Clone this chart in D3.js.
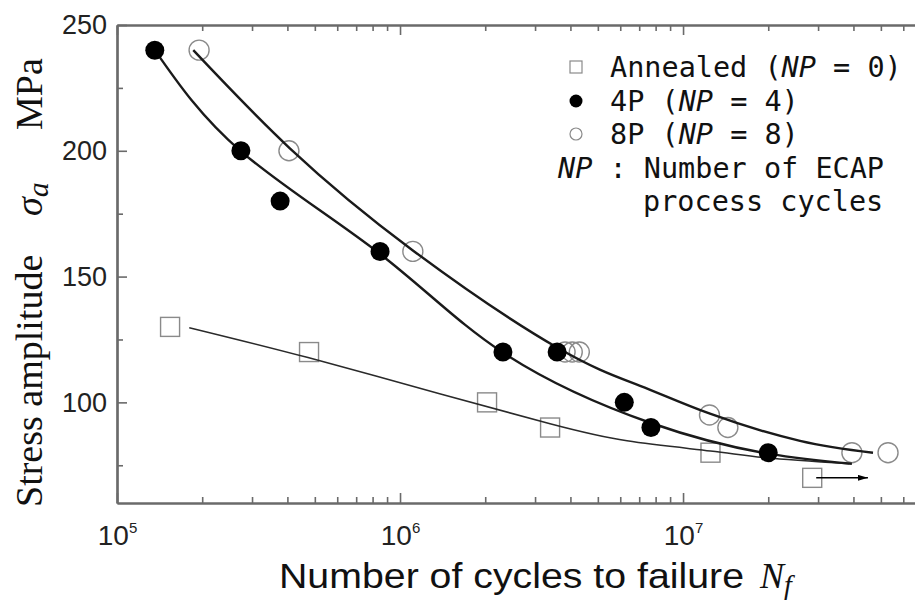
<!DOCTYPE html>
<html>
<head>
<meta charset="utf-8">
<script src="https://cdn.jsdelivr.net/npm/d3@7"></script>
<style>
  html, body { margin: 0; padding: 0; background: #fff; }
  svg { display: block; }
</style>
</head>
<body>
<svg id="chart" width="915" height="605"></svg>
<script>
// ---------------- data ----------------
const xDomain = [1e5, 6.6e7];
const yDomain = [60, 250];
const yMajorTicks = [100, 150, 200, 250];
const yMinorTicks = [75, 125, 175, 225];
const xMajorTicks = [1e5, 1e6, 1e7];
const xTickExponents = ["5", "6", "7"];

// measured points
const annealedN = [1.54e5, 4.77e5, 2.03e6, 3.39e6, 1.25e7, 2.86e7];
const annealedS = [130, 120, 100, 90, 80, 70];
const p4N = [1.36e5, 2.74e5, 3.77e5, 8.5e5, 2.31e6, 3.59e6, 6.2e6, 7.7e6, 2.0e7];
const p4S = [240, 200, 180, 160, 120, 120, 100, 90, 80];
const p8N = [1.95e5, 4.05e5, 1.11e6, 3.83e6, 4.06e6, 4.3e6, 1.24e7, 1.44e7, 3.95e7, 5.3e7];
const p8S = [240, 200, 160, 120, 120, 120, 95, 90, 80, 80];

// run-out (unbroken) specimen arrow target
const runoutFromN = 2.86e7, runoutS = 70, runoutToN = 4.5e7;

// fitted curves
const fit4N = [1.36e5, 2.74e5, 8.5e5, 2.31e6, 7.7e6, 2.0e7, 3.95e7];
const fit4S = [240, 199.8, 159.0, 119.8, 91.8, 79.6, 75.6];
const fit8N = [1.86e5, 4.08e5, 1.11e6, 3.59e6, 7.05e6, 1.245e7, 2.59e7, 4.69e7];
const fit8S = [240, 201, 160.4, 121.8, 106.6, 95.5, 84.7, 80];
const fitAN = [1.80e5, 4.73e5, 1.38e6, 3.39e6, 6.34e6, 1.25e7, 1.97e7, 3.87e7];
const fitAS = [129.7, 117.8, 103.4, 91.5, 84.7, 80.7, 78.0, 75.6];

// legend
const legendLabels = [
  ["Annealed (", "NP", " = 0)"],
  ["4P (", "NP", " = 4)"],
  ["8P (", "NP", " = 8)"]
];
const legendTypes = ["square", "filled", "open"];
const noteLine1 = ["NP", " : Number of ECAP"];
const noteLine2 = "process cycles";

const xTitle = "Number of cycles to failure";
const yTitle = ["Stress amplitude", "\u03C3", "a", "MPa"];

// ---------------- chart ----------------
const svg = d3.select("#chart");
const L = 117, R = 915, T = 25, B = 503;
const x = d3.scaleLog().domain(xDomain).range([L, R]);
const y = d3.scaleLinear().domain(yDomain).range([B, T]);
const axisColor = "#6a6a6a";
const monoFont = "'DejaVu Sans Mono', 'Liberation Mono', monospace";

const xAllTicks = x.ticks().filter(v => v >= xDomain[0] && v <= xDomain[1]);
const xMinorTicks = xAllTicks.filter(v => !xMajorTicks.includes(v));

function styleAxis(g) {
  g.select(".domain").attr("stroke", axisColor).attr("stroke-width", 2.2);
  g.selectAll(".tick line").attr("stroke", axisColor).attr("stroke-width", 1.6);
}

// bottom major
const gB = svg.append("g").attr("transform", `translate(0,${B})`)
  .call(d3.axisBottom(x).tickValues(xMajorTicks).tickSizeInner(-10).tickSizeOuter(0).tickPadding(22).tickFormat(() => ""));
styleAxis(gB);
gB.selectAll(".tick text").each(function(d, i) {
  const t = d3.select(this);
  t.attr("font-family", "'Liberation Sans', Arial, sans-serif").attr("font-size", 28).attr("fill", "#222")
   .attr("dy", "0.71em");
  t.append("tspan").text("10");
  t.append("tspan").attr("font-size", 15).attr("dy", -12).text(xTickExponents[i]);
});
const gBm = svg.append("g").attr("transform", `translate(0,${B})`)
  .call(d3.axisBottom(x).tickValues(xMinorTicks).tickSizeInner(-6).tickSizeOuter(0).tickFormat(""));
styleAxis(gBm);

// top
const gT = svg.append("g").attr("transform", `translate(0,${T})`)
  .call(d3.axisTop(x).tickValues(xMajorTicks).tickSizeInner(-10).tickSizeOuter(0).tickFormat(""));
styleAxis(gT);
const gTm = svg.append("g").attr("transform", `translate(0,${T})`)
  .call(d3.axisTop(x).tickValues(xMinorTicks).tickSizeInner(-6).tickSizeOuter(0).tickFormat(""));
styleAxis(gTm);

// left
const gL = svg.append("g").attr("transform", `translate(${L},0)`)
  .call(d3.axisLeft(y).tickValues(yMajorTicks).tickSizeInner(-10).tickSizeOuter(0).tickPadding(10).tickFormat(d3.format("d")));
styleAxis(gL);
gL.selectAll(".tick text").attr("font-family", "'Liberation Sans', Arial, sans-serif").attr("font-size", 27).attr("fill", "#222");
const gLm = svg.append("g").attr("transform", `translate(${L},0)`)
  .call(d3.axisLeft(y).tickValues(yMinorTicks).tickSizeInner(-6).tickSizeOuter(0).tickFormat(""));
styleAxis(gLm);

// markers: annealed squares
const sq = 19;
svg.append("g").selectAll("rect").data(annealedN.map((n, i) => [n, annealedS[i]])).join("rect")
  .attr("x", d => x(d[0]) - sq / 2).attr("y", d => y(d[1]) - sq / 2)
  .attr("width", sq).attr("height", sq)
  .attr("fill", "none").attr("stroke", "#8a8a8a").attr("stroke-width", 1.4);

// open circles
svg.append("g").selectAll("circle").data(p8N.map((n, i) => [n, p8S[i]])).join("circle")
  .attr("cx", d => x(d[0])).attr("cy", d => y(d[1])).attr("r", 10)
  .attr("fill", "none").attr("stroke", "#8a8a8a").attr("stroke-width", 1.4);

// curves
const line = d3.line().x(d => x(d[0])).y(d => y(d[1])).curve(d3.curveNatural);
svg.append("path").datum(fitAN.map((n, i) => [n, fitAS[i]])).attr("d", line)
  .attr("fill", "none").attr("stroke", "#2a2a2a").attr("stroke-width", 1.5);
svg.append("path").datum(fit4N.map((n, i) => [n, fit4S[i]])).attr("d", line)
  .attr("fill", "none").attr("stroke", "#1a1a1a").attr("stroke-width", 2.4);
svg.append("path").datum(fit8N.map((n, i) => [n, fit8S[i]])).attr("d", line)
  .attr("fill", "none").attr("stroke", "#1a1a1a").attr("stroke-width", 2.4);

// filled circles
svg.append("g").selectAll("circle").data(p4N.map((n, i) => [n, p4S[i]])).join("circle")
  .attr("cx", d => x(d[0])).attr("cy", d => y(d[1])).attr("r", 9.5)
  .attr("fill", "#000");

// run-out arrow
svg.append("defs").append("marker").attr("id", "ah")
  .attr("viewBox", "0 0 10 6").attr("refX", 10).attr("refY", 3)
  .attr("markerWidth", 10).attr("markerHeight", 6).attr("markerUnits", "userSpaceOnUse")
  .attr("orient", "auto")
  .append("path").attr("d", "M0,0 L10,3 L0,6 Z").attr("fill", "#000");
svg.append("line")
  .attr("x1", x(runoutFromN) + 4).attr("y1", y(runoutS))
  .attr("x2", x(runoutToN)).attr("y2", y(runoutS))
  .attr("stroke", "#000").attr("stroke-width", 1.5).attr("marker-end", "url(#ah)");

// legend
const legY = [67, 101, 134];
const legMarkerX = 576;
legendTypes.forEach((t, i) => {
  const cy = legY[i];
  if (t === "square") {
    svg.append("rect").attr("x", legMarkerX - 6).attr("y", cy - 6).attr("width", 12).attr("height", 12)
      .attr("fill", "none").attr("stroke", "#8a8a8a").attr("stroke-width", 1.2);
  } else if (t === "filled") {
    svg.append("circle").attr("cx", legMarkerX).attr("cy", cy).attr("r", 6.5).attr("fill", "#000");
  } else {
    svg.append("circle").attr("cx", legMarkerX).attr("cy", cy).attr("r", 6)
      .attr("fill", "none").attr("stroke", "#8a8a8a").attr("stroke-width", 1.2);
  }
  const tx = svg.append("text").attr("x", 610).attr("y", cy + 10)
    .attr("font-family", monoFont).attr("font-size", 28.5).attr("fill", "#111")
    .style("white-space", "pre");
  tx.append("tspan").text(legendLabels[i][0]);
  tx.append("tspan").attr("font-style", "italic").text(legendLabels[i][1]);
  tx.append("tspan").text(legendLabels[i][2]);
});
const n1 = svg.append("text").attr("x", 558).attr("y", 178)
  .attr("font-family", monoFont).attr("font-size", 28.5).attr("fill", "#111").style("white-space", "pre");
n1.append("tspan").attr("font-style", "italic").text(noteLine1[0]);
n1.append("tspan").text(noteLine1[1]);
svg.append("text").attr("x", 643).attr("y", 211)
  .attr("font-family", monoFont).attr("font-size", 28.5).attr("fill", "#111").style("white-space", "pre")
  .text(noteLine2);

// x title
svg.append("text").attr("x", 279).attr("y", 588)
  .attr("font-family", "'Liberation Sans', Arial, sans-serif").attr("font-size", 35).attr("fill", "#111")
  .attr("textLength", 465).attr("lengthAdjust", "spacingAndGlyphs")
  .text(xTitle);
const nf = svg.append("text").attr("x", 760).attr("y", 588)
  .attr("font-family", "'Liberation Serif', 'Times New Roman', serif").attr("font-style", "italic")
  .attr("font-size", 36).attr("fill", "#111");
nf.append("tspan").text("N");
nf.append("tspan").attr("font-size", 28).attr("dy", 6).text("f");

// y title (rotated)
const serif = "'Liberation Serif', 'Times New Roman', serif";
const gy = svg.append("g").attr("transform", "translate(42,0) rotate(-90)");
gy.append("text").attr("x", -507).attr("y", 0)
  .attr("font-family", serif).attr("font-size", 38).attr("fill", "#111").text(yTitle[0]);
const sig = gy.append("text").attr("x", -216).attr("y", 0)
  .attr("font-family", serif).attr("font-style", "italic").attr("font-size", 38).attr("fill", "#111");
sig.append("tspan").text(yTitle[1]);
sig.append("tspan").attr("font-size", 30).attr("dy", 6).text(yTitle[2]);
gy.append("text").attr("x", -130).attr("y", 0)
  .attr("font-family", serif).attr("font-size", 38).attr("fill", "#111").text(yTitle[3]);
</script>
</body>
</html>
